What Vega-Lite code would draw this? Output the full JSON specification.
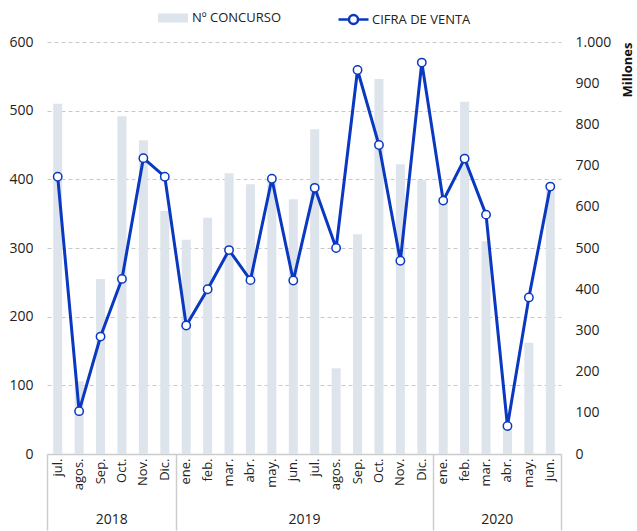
{
  "$schema": "https://vega.github.io/schema/vega-lite/v6.json",
  "width": 514,
  "height": 412,
  "padding": {"left": 8, "top": 3, "right": 0, "bottom": 0},
  "background": "white",
  "config": {
    "font": "Open Sans",
    "view": {"stroke": null},
    "axis": {"labelFont": "Open Sans", "labelColor": "#222222", "labelFontSize": 14, "titleFont": "Open Sans"},
    "legend": {"labelFont": "Open Sans"}
  },
  "data": {
    "values": [
      {"k": "jul. 2018", "concursos": 510, "venta": 673},
      {"k": "agos. 2018", "concursos": 106, "venta": 104},
      {"k": "Sep. 2018", "concursos": 255, "venta": 285},
      {"k": "Oct. 2018", "concursos": 492, "venta": 425},
      {"k": "Nov. 2018", "concursos": 457, "venta": 718},
      {"k": "Dic. 2018", "concursos": 354, "venta": 673},
      {"k": "ene. 2019", "concursos": 312, "venta": 312},
      {"k": "feb. 2019", "concursos": 344, "venta": 400},
      {"k": "mar. 2019", "concursos": 409, "venta": 495},
      {"k": "abr. 2019", "concursos": 393, "venta": 422},
      {"k": "may. 2019", "concursos": 398, "venta": 668},
      {"k": "jun. 2019", "concursos": 371, "venta": 421},
      {"k": "jul. 2019", "concursos": 473, "venta": 646},
      {"k": "agos. 2019", "concursos": 125, "venta": 500},
      {"k": "Sep. 2019", "concursos": 320, "venta": 932},
      {"k": "Oct. 2019", "concursos": 546, "venta": 750},
      {"k": "Nov. 2019", "concursos": 422, "venta": 469},
      {"k": "Dic. 2019", "concursos": 399, "venta": 950},
      {"k": "ene. 2020", "concursos": 368, "venta": 615},
      {"k": "feb. 2020", "concursos": 513, "venta": 717},
      {"k": "mar. 2020", "concursos": 310, "venta": 581},
      {"k": "abr. 2020", "concursos": 40, "venta": 68},
      {"k": "may. 2020", "concursos": 162, "venta": 380},
      {"k": "jun. 2020", "concursos": 385, "venta": 649}
    ]
  },
  "layer": [
    {
      "layer": [
        {
          "mark": {"type": "bar", "width": {"band": 0.42}},
          "encoding": {
            "x": {
              "field": "k", "type": "ordinal", "sort": null,
              "scale": {"paddingInner": 0, "paddingOuter": 0},
              "axis": {
                "title": null,
                "labelExpr": "split(datum.value, ' ')[0]",
                "labelAngle": 270,
                "labelAlign": "right",
                "labelBaseline": "middle",
                "labelFontSize": 13,
                "labelPadding": 4,
                "ticks": false,
                "domainColor": "#cccccc",
                "domainWidth": 1.5,
                "grid": false
              }
            },
            "y": {
              "field": "concursos", "type": "quantitative",
              "scale": {"domain": [0, 600]},
              "axis": {
                "title": null,
                "values": [0, 100, 200, 300, 400, 500, 600],
                "domain": false,
                "ticks": false,
                "labelPadding": 14,
                "gridColor": "#c8c8c8",
                "gridDash": [4, 3],
                "gridWidth": 1
              }
            },
            "fill": {
              "datum": "Nº CONCURSO", "type": "nominal",
              "scale": {"domain": ["Nº CONCURSO"], "range": ["#dde4ec"]},
              "legend": {
                "title": null,
                "orient": "none",
                "legendX": 111,
                "legendY": -39,
                "labelFontSize": 13,
                "labelColor": "#222222",
                "symbolType": "M-1,-0.3H1V0.3H-1Z",
                "symbolSize": 900,
                "symbolStrokeWidth": 0,
                "symbolOpacity": 1,
                "labelOffset": 4
              }
            }
          }
        },
        {
          "mark": {
            "type": "line", "strokeWidth": 3,
            "point": {"filled": true, "fill": "white", "stroke": "#0a38c0", "strokeWidth": 1.5, "size": 70}
          },
          "encoding": {
            "x": {"field": "k", "type": "ordinal", "sort": null},
            "y": {
              "field": "venta", "type": "quantitative",
              "scale": {"domain": [0, 1000]},
              "axis": {
                "orient": "right",
                "values": [0, 100, 200, 300, 400, 500, 600, 700, 800, 900, 1000],
                "labelExpr": "replace(format(datum.value, ','), ',', '.')",
                "grid": false,
                "domain": false,
                "ticks": false,
                "labelPadding": 14,
                "title": "Millones",
                "titleFontWeight": "bold",
                "titleFontSize": 13,
                "titleColor": "#111111",
                "titleAngle": 270,
                "titleAnchor": "end",
                "titleAlign": "right",
                "titleBaseline": "top",
                "titlePadding": 11
              }
            },
            "stroke": {
              "datum": "CIFRA DE VENTA", "type": "nominal",
              "scale": {"domain": ["CIFRA DE VENTA"], "range": ["#0a38c0"]},
              "legend": {
                "title": null,
                "orient": "none",
                "legendX": 290,
                "legendY": -39,
                "labelFontSize": 13,
                "labelColor": "#222222",
                "symbolType": "M-1,0H-0.3M0.3,0A0.3,0.3 0 1 1 -0.3,0A0.3,0.3 0 1 1 0.3,0M0.3,0H1",
                "symbolSize": 900,
                "symbolFillColor": "white",
                "symbolStrokeWidth": 2.5,
                "symbolOpacity": 1,
                "labelOffset": 2
              }
            }
          }
        }
      ],
      "resolve": {"scale": {"y": "independent"}}
    },
    {
      "mark": {"type": "point", "opacity": 0},
      "encoding": {
        "x": {
          "datum": 0, "type": "quantitative",
          "scale": {"domain": [0, 24], "nice": false, "zero": false},
          "axis": {
            "orient": "bottom",
            "title": null,
            "values": [0, 3, 6, 12, 18, 21, 24],
            "labelExpr": "datum.value == 3 ? '2018' : datum.value == 12 ? '2019' : datum.value == 21 ? '2020' : ''",
            "labelFlush": false,
            "labelOverlap": false,
            "labelFontSize": 14,
            "labelPadding": -18,
            "tickSize": 76,
            "tickColor": "#cccccc",
            "tickWidth": 1.5,
            "tickOpacity": {"condition": {"test": "datum.value == 3 || datum.value == 12 || datum.value == 21", "value": 0}, "value": 1},
            "domain": false,
            "grid": false
          }
        }
      }
    }
  ],
  "resolve": {"scale": {"x": "independent"}}
}
